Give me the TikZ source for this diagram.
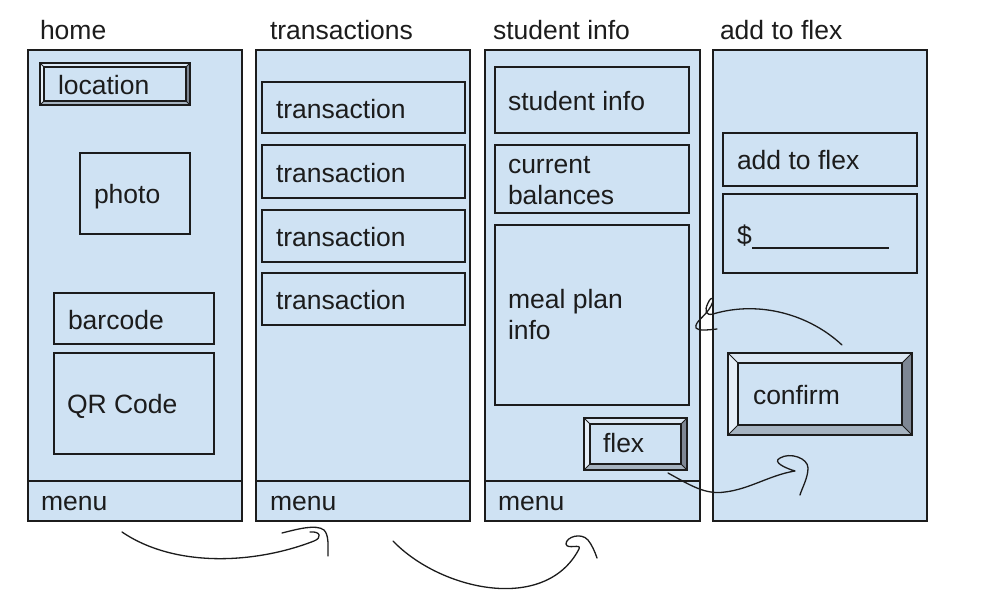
\documentclass[tikz,border=0pt]{standalone}
\usepackage{fontspec}
\setmainfont{Liberation Sans}
\usetikzlibrary{fit}
\definecolor{pfill}{HTML}{CFE2F3}
\definecolor{ink}{HTML}{1C1C1C}
\definecolor{bvtop}{HTML}{DCE8F4}
\definecolor{bvleft}{HTML}{E6EFF8}
\definecolor{bvright}{HTML}{7E8794}
\definecolor{bvbot}{HTML}{A6B3C0}
\tikzset{
  box/.style={draw=ink, fill=pfill, line width=1.3pt, inner sep=0pt, outer sep=0pt},
  lbl/.style={anchor=base west, inner sep=0pt, outer sep=0pt, font=\fontsize{26.5}{31}\selectfont, text=ink},
  sketch/.style={draw=ink, line width=1.3pt, line cap=round, line join=round},
  edge/.style={draw=ink, line width=1.3pt},
}
% name x1 y1 x2 y2
\newcommand\boxat[5]{\node[box, fit={(#2,#3) (#4,#5)}] (#1) {};}
% name x1 y1 x2 y2 bevel
\newcommand\bevelbtn[6]{%
  \node[box, fit={(#2,#3) (#4,#5)}] (#1) {};
  \fill[bvtop] (#2,#3) -- (#4,#3) -- (#4-#6,#3+#6) -- (#2+#6,#3+#6) -- cycle;
  \fill[bvleft] (#2,#3) -- (#2+#6,#3+#6) -- (#2+#6,#5-#6) -- (#2,#5) -- cycle;
  \fill[bvright] (#4,#3) -- (#4,#5) -- (#4-#6,#5-#6) -- (#4-#6,#3+#6) -- cycle;
  \fill[bvbot] (#2,#5) -- (#4,#5) -- (#4-#6,#5-#6) -- (#2+#6,#5-#6) -- cycle;
  \draw[edge] (#2,#3) rectangle (#4,#5);
  \draw[edge] (#2+#6,#3+#6) rectangle (#4-#6,#5-#6);
  \draw[ink, line width=0.8pt] (#2,#3) -- (#2+#6,#3+#6) (#4,#3) -- (#4-#6,#3+#6)
     (#2,#5) -- (#2+#6,#5-#6) (#4,#5) -- (#4-#6,#5-#6);
}
\begin{document}
\begin{tikzpicture}[x=1pt, y=-1pt]
\useasboundingbox (0,0) rectangle (996,613);
\fill[white] (0,0) rectangle (996,613);

% titles
\node[lbl] (tHome) at (40,39) {home};
\node[lbl] (tTrans) at (270,39) {transactions};
\node[lbl] (tStud) at (493,39) {student info};
\node[lbl] (tFlex) at (720,39) {add to flex};

% panels
\boxat{pHome}{28}{50}{242}{521}
\boxat{pTrans}{256}{50}{470}{521}
\boxat{pStud}{485}{50}{700}{521}
\boxat{pFlex}{713}{50}{927}{521}

% menu dividers
\draw[edge] (pHome.west |- 0,481) -- (pHome.east |- 0,481);
\draw[edge] (pTrans.west |- 0,481) -- (pTrans.east |- 0,481);
\draw[edge] (pStud.west |- 0,481) -- (pStud.east |- 0,481);
\node[lbl] (mHome) at (41,510) {menu};
\node[lbl] (mTrans) at (270,510) {menu};
\node[lbl] (mStud) at (498,510) {menu};

% home
\bevelbtn{bLoc}{40}{63}{190}{105}{4}
\node[lbl] (xLoc) at (58,94) {location};
\boxat{bPhoto}{80}{153}{190}{234}
\node[lbl] (xPhoto) at (94,203) {photo};
\boxat{bBar}{54}{293}{214}{344}
\node[lbl] (xBar) at (68,329) {barcode};
\boxat{bQR}{54}{353}{214}{454}
\node[lbl] (xQR) at (67,413) {QR Code};

% transactions
\boxat{bT1}{262}{82}{465}{133}
\node[lbl] (xT1) at (276,118) {transaction};
\boxat{bT2}{262}{145}{465}{198}
\node[lbl] (xT2) at (276,182) {transaction};
\boxat{bT3}{262}{210}{465}{262}
\node[lbl] (xT3) at (276,246) {transaction};
\boxat{bT4}{262}{273}{465}{325}
\node[lbl] (xT4) at (276,309) {transaction};

% student info
\boxat{bSI}{495}{67}{689}{133}
\node[lbl] (xSI) at (508,110) {student info};
\boxat{bCB}{495}{145}{689}{213}
\node[lbl] (xCB1) at (508,173) {current};
\node[lbl] (xCB2) at (508,204) {balances};
\boxat{bMP}{495}{225}{689}{405}
\node[lbl] (xMP1) at (508,308) {meal plan};
\node[lbl] (xMP2) at (508,339) {info};
\bevelbtn{bFlexBtn}{584}{418}{687}{470}{6}
\node[lbl] (xFlexBtn) at (603,452) {flex};

% add to flex
\boxat{bATF}{723}{133}{917}{186}
\node[lbl] (xATF) at (737,169) {add to flex};
\boxat{bAmt}{723}{194}{917}{273}
\node[lbl] (xAmt) at (737,244) {\$};
\coordinate (uS) at (752,248);
\coordinate (uE) at (889,248);
\draw[ink, line width=1.2pt] (uS) -- (uE);
\bevelbtn{bConf}{728}{353}{912}{435}{10}
\node[lbl] (xConf) at (753,404) {confirm};

% hand-drawn connectors
\coordinate (c1s) at (122,532);
\coordinate (c1e) at (314,541);
\draw[sketch] (c1s) .. controls (175,568) and (255,564) .. (c1e)
   .. controls (322,538) and (321,531) .. (310,532);
\draw[sketch] (282,533) .. controls (298,529) and (316,524) .. (324,530)
   .. controls (329,535) and (328,546) .. (328,556);

\coordinate (c2s) at (393,541);
\coordinate (c2e) at (579,549);
\draw[sketch] (c2s) .. controls (440,590) and (545,614) .. (c2e)
   .. controls (582,543) and (567,550) .. (566,544)
   .. controls (566,537) and (581,532) .. (588,540)
   .. controls (592,545) and (595,552) .. (597,558);

\coordinate (c3s) at (668,473);
\coordinate (c3e) at (795,471);
\draw[sketch] (c3s) .. controls (690,485) and (705,495) .. (725,492)
   .. controls (750,489) and (770,475) .. (c3e)
   .. controls (785,468) and (772,462) .. (780,458)
   .. controls (790,452) and (808,458) .. (808,468)
   .. controls (808,478) and (802,488) .. (800,495);

\coordinate (c4s) at (842,345);
\coordinate (c4e) at (713,314);
\draw[sketch] (c4s) .. controls (810,315) and (760,300) .. (c4e)
   .. controls (706,316) and (704,311) .. (708,303)
   .. controls (711,296) and (716,296) .. (711,306)
   .. controls (706,316) and (694,322) .. (696,328)
   .. controls (698,331) and (708,330) .. (717,329);
\end{tikzpicture}
\end{document}
